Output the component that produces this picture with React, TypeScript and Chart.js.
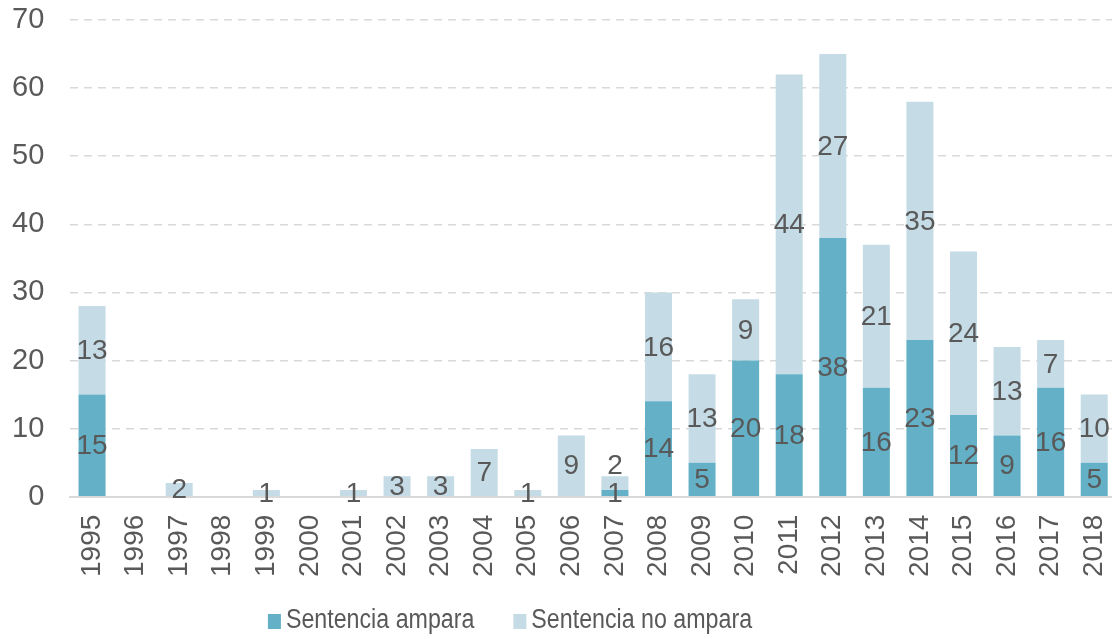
import React, { useEffect, useRef } from "react";
import { Chart, registerables } from "chart.js";

Chart.register(...registerables);

const years = [
  "1995", "1996", "1997", "1998", "1999", "2000", "2001", "2002", "2003", "2004", "2005", "2006",
  "2007", "2008", "2009", "2010", "2011", "2012", "2013", "2014", "2015", "2016", "2017", "2018",
];
const amparaValues = [15, 0, 0, 0, 0, 0, 0, 0, 0, 0, 0, 0, 1, 14, 5, 20, 18, 38, 16, 23, 12, 9, 16, 5];
const noAmparaValues = [13, 0, 2, 0, 1, 0, 1, 3, 3, 7, 1, 9, 2, 16, 13, 9, 44, 27, 21, 35, 24, 13, 7, 10];
const seriesNames = ["Sentencia ampara", "Sentencia no ampara"];
const seriesColors = ["#63B0C7", "#C5DCE6"];

const FONT = "'Liberation Sans', Arial, sans-serif";
const TEXT = "#595959";
const X_PAD = 18;
const Y_PAD = 26;

const labelPlugin = {
  id: "stackLabels",
  afterDatasetsDraw(chart: any) {
    const ctx = chart.ctx;
    ctx.save();
    ctx.font = `28px ${FONT}`;
    ctx.fillStyle = TEXT;
    ctx.textAlign = "center";
    ctx.textBaseline = "middle";
    const n = chart.data.labels.length;
    for (let i = 0; i < n; i++) {
      let lastY = Infinity;
      chart.data.datasets.forEach((ds: any, di: number) => {
        const v = ds.data[i];
        if (!v) return;
        const el = chart.getDatasetMeta(di).data[i];
        let cy = (el.y + el.base) / 2;
        if (lastY - cy < 28) cy = lastY - 28;
        ctx.fillText(String(v), el.x, cy + 1);
        lastY = cy;
      });
    }
    ctx.restore();
  },
};

const legendPlugin = {
  id: "customLegend",
  afterDraw(chart: any) {
    const ctx = chart.ctx;
    const sx = 0.86;
    ctx.save();
    ctx.font = `27px ${FONT}`;
    ctx.textBaseline = "middle";
    ctx.textAlign = "left";
    const box = 13;
    const gap = 5;
    const itemGap = 39;
    const widths = seriesNames.map((s) => ctx.measureText(s).width * sx);
    const total = widths.reduce((a, w) => a + box + gap + w, 0) + itemGap * (seriesNames.length - 1);
    let x = 510 - total / 2;
    const cy = 621;
    seriesNames.forEach((s, i) => {
      ctx.fillStyle = seriesColors[i];
      ctx.fillRect(x, cy - 7, box, 15);
      x += box + gap;
      ctx.fillStyle = TEXT;
      ctx.save();
      ctx.translate(x, cy);
      ctx.scale(sx, 1);
      ctx.fillText(s, 0, 0);
      ctx.restore();
      x += widths[i] + itemGap;
    });
    ctx.restore();
  },
};

export default function App() {
  const ref = useRef<HTMLCanvasElement>(null);
  useEffect(() => {
    if (!ref.current) return;
    const chart = new Chart(ref.current, {
      type: "bar",
      data: {
        labels: years,
        datasets: [
          {
            label: seriesNames[0],
            data: amparaValues,
            backgroundColor: seriesColors[0],
            barPercentage: 0.62,
            categoryPercentage: 1,
          },
          {
            label: seriesNames[1],
            data: noAmparaValues,
            backgroundColor: seriesColors[1],
            barPercentage: 0.62,
            categoryPercentage: 1,
          },
        ],
      },
      options: {
        responsive: false,
        animation: false,
        layout: { padding: { left: 12, right: 4, top: 20, bottom: 62 } },
        plugins: {
          legend: { display: false },
          tooltip: { enabled: false },
        },
        scales: {
          x: {
            stacked: true,
            grid: { display: false, drawTicks: false },
            border: { display: true, color: "#D9D9D9", width: 2 },
            ticks: {
              color: TEXT,
              font: { family: FONT, size: 28 },
              maxRotation: 90,
              minRotation: 90,
              padding: X_PAD,
              autoSkip: false,
            },
            afterFit: (s: any) => {
              s.paddingLeft = 0;
              s.paddingRight = 0;
              s.height = s.height - X_PAD;
            },
          },
          y: {
            stacked: true,
            min: 0,
            max: 70,
            grid: { color: "#D9D9D9", lineWidth: 1.5, drawTicks: false },
            border: {
              display: false,
              dash: (c: any) => (c.tick && c.tick.value === 0 ? [] : [8, 6]),
            },
            ticks: {
              stepSize: 10,
              color: TEXT,
              font: { family: FONT, size: 29 },
              padding: Y_PAD,
            },
            afterFit: (s: any) => {
              s.paddingTop = 0;
              s.paddingBottom = 0;
              s.width = s.width - Y_PAD;
            },
          },
        },
      },
      plugins: [labelPlugin, legendPlugin],
    });
    return () => chart.destroy();
  }, []);
  return (
    <div style={{ position: "absolute", left: 0, top: 0, width: 1112, height: 639, overflow: "hidden", background: "#fff" }}>
      <canvas ref={ref} width={1120} height={639} />
    </div>
  );
}
